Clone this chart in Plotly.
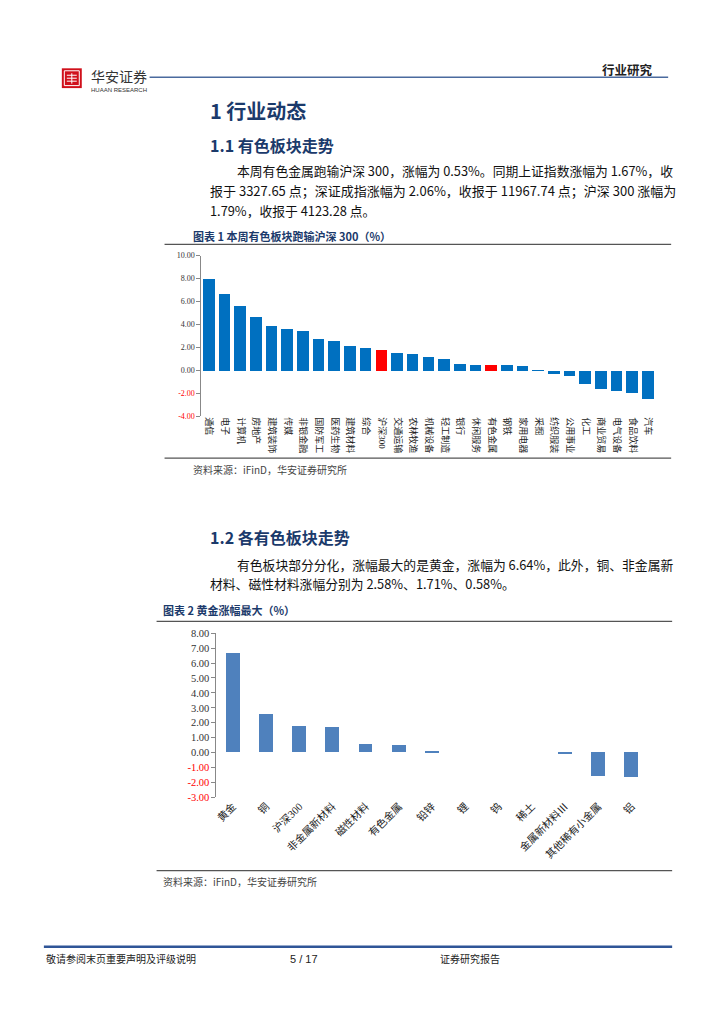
import plotly.graph_objects as go

# ---------------- data ----------------
c1_labels = ["通信", "电子", "计算机", "房地产", "建筑装饰", "传媒", "非银金融", "国防军工",
             "医药生物", "建筑材料", "综合", "沪深300", "交通运输", "农林牧渔", "机械设备",
             "轻工制造", "银行", "休闲服务", "有色金属", "钢铁", "家用电器", "采掘",
             "纺织服装", "公用事业", "化工", "商业贸易", "电气设备", "食品饮料", "汽车"]
c1_values = [7.98, 6.70, 5.62, 4.66, 3.86, 3.60, 3.50, 2.80, 2.55, 2.20, 1.97, 1.79, 1.52,
             1.45, 1.18, 1.00, 0.58, 0.52, 0.53, 0.48, 0.40, 0.01, -0.28, -0.42, -1.15,
             -1.60, -1.80, -1.90, -2.45]
c1_highlight = ["沪深300", "有色金属"]
c1_yticks = [-4, -2, 0, 2, 4, 6, 8, 10]

c2_labels = ["黄金", "铜", "沪深300", "非金属新材料", "磁性材料", "有色金属", "铅锌", "锂", "钨",
             "稀土", "金属新材料Ⅲ", "其他稀有小金属", "铝"]
c2_values = [6.64, 2.58, 1.79, 1.71, 0.58, 0.53, 0.08, 0.0, 0.0, 0.0, -0.10, -1.55, -1.62]
c2_yticks = [-3, -2, -1, 0, 1, 2, 3, 4, 5, 6, 7, 8]

W, H = 724, 1024
NAVY = "#1B3A6B"
CJK = "Noto Sans CJK SC"
SERIF = "Liberation Serif, Noto Sans CJK SC"


def px(x):
    return x / W


def py(y):
    return 1 - y / H


fig = go.Figure()

# ---------------- chart 1 ----------------
c1_x = list(range(len(c1_labels)))
c1_colors = ["#FF0000" if l in c1_highlight else "#0070C0" for l in c1_labels]
fig.add_trace(go.Bar(x=c1_x, y=c1_values, marker=dict(color=c1_colors, line=dict(width=0)),
                     xaxis="x", yaxis="y", showlegend=False, width=0.74))

# ---------------- chart 2 ----------------
c2_x = list(range(len(c2_labels)))
fig.add_trace(go.Bar(x=c2_x, y=c2_values, marker=dict(color="#4F81BD", line=dict(width=0)),
                     xaxis="x2", yaxis="y2", showlegend=False, width=0.42))


def tick_text(v):
    s = f"{v:.2f}"
    return f"<span style='color:#FF0000'>{s}</span>" if v < 0 else s


c1_dom_x = [px(200), px(656)]
c1_dom_y = [py(415.7), py(253.3)]
c2_dom_x = [px(215), px(648)]
c2_dom_y = [py(801), py(635)]

c1_range = [min(c1_yticks), max(c1_yticks)]
c2_range = [min(c2_yticks), max(c2_yticks)]
c1_zero = c1_dom_y[0] + (0 - c1_range[0]) / (c1_range[1] - c1_range[0]) * (c1_dom_y[1] - c1_dom_y[0])
c2_zero = c2_dom_y[0] + (0 - c2_range[0]) / (c2_range[1] - c2_range[0]) * (c2_dom_y[1] - c2_dom_y[0])

n1, n2 = len(c1_labels), len(c2_labels)

layout = dict(
    width=W, height=H, margin=dict(l=0, r=0, t=0, b=0),
    paper_bgcolor="white", plot_bgcolor="rgba(0,0,0,0)",
    bargap=0,
    xaxis=dict(domain=c1_dom_x, range=[-0.5, n1 - 0.5], tickmode="array", tickvals=c1_x,
               ticktext=c1_labels, tickangle=90, ticks="", showline=False, showgrid=False,
               zeroline=False, anchor="y", tickfont=dict(family=SERIF, size=9, color="#222"),
               fixedrange=True),
    yaxis=dict(domain=c1_dom_y, range=c1_range, tickmode="array", tickvals=c1_yticks,
               ticktext=[tick_text(v) for v in c1_yticks], ticks="outside", ticklen=4,
               tickcolor="#888", showline=True, linecolor="#888", linewidth=1, showgrid=False,
               zeroline=False, anchor="x", tickfont=dict(family=SERIF, size=8, color="#333")),
    xaxis3=dict(overlaying="x", anchor="free", position=c1_zero, range=[-0.5, n1 - 0.5],
                tickmode="array", tickvals=[i + 0.5 for i in c1_x], showticklabels=False,
                ticks="outside", ticklen=4, tickcolor="#888", showline=True, linecolor="#888",
                linewidth=1, showgrid=False, zeroline=False),
    xaxis2=dict(domain=c2_dom_x, range=[-0.5, n2 - 0.5], tickmode="array", tickvals=c2_x,
                ticktext=c2_labels, tickangle=-45, ticks="", showline=False, showgrid=False,
                zeroline=False, anchor="y2", tickfont=dict(family=SERIF, size=10.5, color="#222")),
    yaxis2=dict(domain=c2_dom_y, range=c2_range, tickmode="array", tickvals=c2_yticks,
                ticktext=[tick_text(v) for v in c2_yticks], ticks="outside", ticklen=4,
                tickcolor="#888", showline=True, linecolor="#888", linewidth=1, showgrid=False,
                zeroline=False, anchor="x2", tickfont=dict(family=SERIF, size=10.5, color="#333")),
    xaxis4=dict(overlaying="x2", anchor="free", position=c2_zero, range=[-0.5, n2 - 0.5],
                tickmode="array", tickvals=[i + 0.5 for i in c2_x], showticklabels=False,
                ticks="outside", ticklen=4, tickcolor="#888", showline=True, linecolor="#888",
                linewidth=1, showgrid=False, zeroline=False),
)
fig.update_layout(**layout)

shapes = []


def hline(x0, x1, y, color, width):
    shapes.append(dict(type="line", xref="paper", yref="paper", x0=px(x0), x1=px(x1),
                       y0=py(y), y1=py(y), line=dict(color=color, width=width)))


# header
shapes.append(dict(type="rect", xref="paper", yref="paper", x0=px(60), x1=px(80), y0=py(84),
                   y1=py(64), fillcolor="#D0101B", line=dict(width=0)))
shapes.append(dict(type="rect", xref="paper", yref="paper", x0=px(62.5), x1=px(77.5), y0=py(81.5),
                   y1=py(66.5), fillcolor="rgba(0,0,0,0)", line=dict(color="white", width=1)))
for yy in [71, 74, 77]:
    shapes.append(dict(type="line", xref="paper", yref="paper", x0=px(65), x1=px(75), y0=py(yy),
                       y1=py(yy), line=dict(color="white", width=1)))
shapes.append(dict(type="line", xref="paper", yref="paper", x0=px(70), x1=px(70), y0=py(69),
                   y1=py(79.5), line=dict(color="white", width=1)))
hline(148, 668, 73, "#4A6A9E", 1.5)

# chart frames
hline(163, 671, 242, "#555", 1.2)
hline(163, 671, 458, "#555", 1.2)
hline(155, 672, 623, "#555", 1.2)
hline(155, 672, 875, "#555", 1.2)

# footer
hline(42, 672, 952, "#2F5597", 2.5)

annotations = []


def text(x, y, s, size, color="#222", family=CJK, anchor="left"):
    annotations.append(dict(x=px(x), y=py(y), xref="paper", yref="paper", text=s,
                            showarrow=False, xanchor=anchor, yanchor="middle",
                            font=dict(family=family, size=size, color=color)))


text(87, 72, "华安证券", 14, "#333")
text(87, 86, "HUAAN RESEARCH", 6, "#333", "Liberation Sans")
text(655, 65, "<b>行业研究</b>", 12.5, "#222", CJK, "right")

text(207, 107, "<b>1 行业动态</b>", 20, NAVY)
text(207, 142, "<b>1.1 有色板块走势</b>", 16, NAVY)
para1 = ["本周有色金属跑输沪深 300，涨幅为 0.53%。同期上证指数涨幅为 1.67%，收",
         "报于 3327.65 点；深证成指涨幅为 2.06%，收报于 11967.74 点；沪深 300 涨幅为",
         "1.79%，收报于 4123.28 点。"]
text(234, 167, para1[0], 12.8, "#111")
text(207, 188, para1[1], 13.0, "#111")
text(207, 208, para1[2], 12.8, "#111")
text(190, 234, "<b>图表 1 本周有色板块跑输沪深 300（%）</b>", 11, NAVY)
text(190, 470, "资料来源：iFinD，华安证券研究所", 10, "#444")

text(207, 538, "<b>1.2 各有色板块走势</b>", 16, NAVY)
para2 = ["有色板块部分分化，涨幅最大的是黄金，涨幅为 6.64%，此外，铜、非金属新",
         "材料、磁性材料涨幅分别为 2.58%、1.71%、0.58%。"]
text(234, 566, para2[0], 12.8, "#111")
text(207, 585, para2[1], 12.8, "#111")
text(159, 612, "<b>图表 2 黄金涨幅最大（%）</b>", 11, NAVY)
text(159, 886, "资料来源：iFinD，华安证券研究所", 10, "#444")

text(42, 964, "敬请参阅末页重要声明及评级说明", 10, "#222")
text(287, 964, "5 / 17", 11, "#222", "Liberation Sans")
text(437, 964, "证券研究报告", 10, "#222")

fig.update_layout(shapes=shapes, annotations=annotations)
fig.write_html("out.html", config={"displayModeBar": False},
               post_script="document.body.style.margin='0';document.body.style.padding='0';")
